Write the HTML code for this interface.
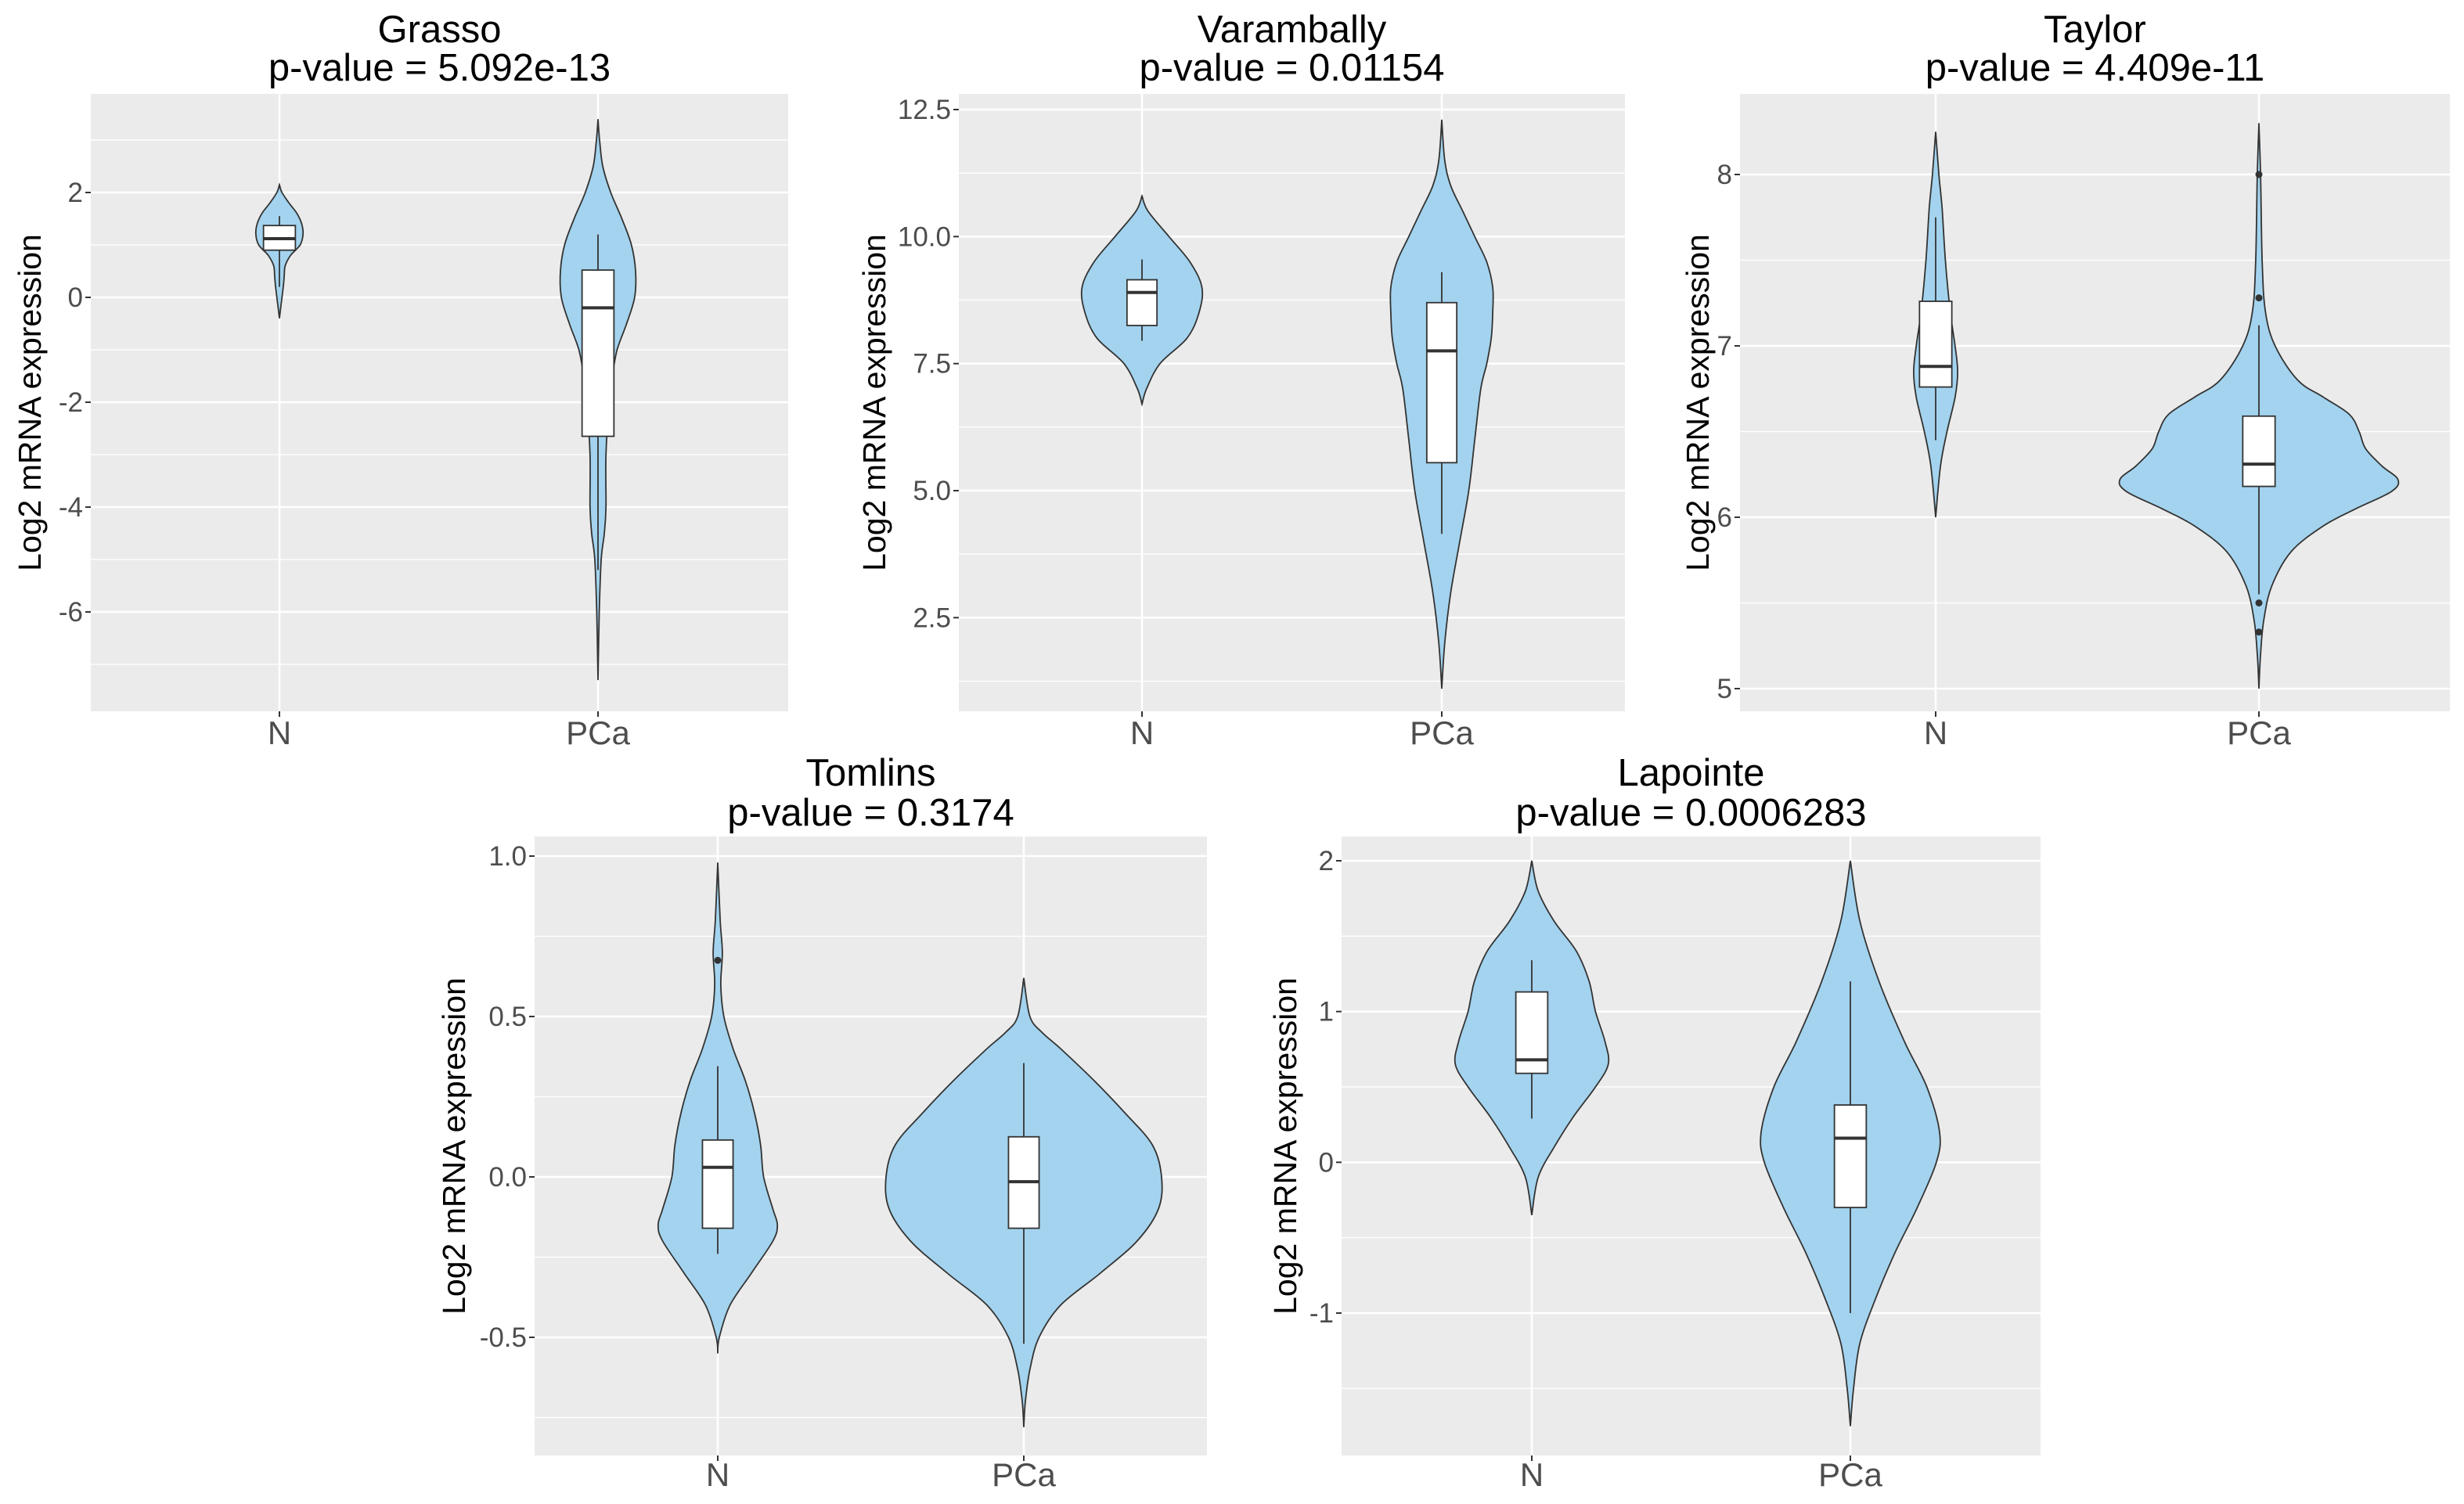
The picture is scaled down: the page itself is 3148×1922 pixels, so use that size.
<!DOCTYPE html>
<html><head><meta charset="utf-8">
<style>
html,body{margin:0;padding:0;background:#fff;}
svg{display:block;font-family:"Liberation Sans",sans-serif;}
</style></head>
<body>
<svg id="fig" width="3148" height="1922" viewBox="0 0 3148 1922" xmlns="http://www.w3.org/2000/svg"></svg>
<script>
// ---- data ----
const categories = ["N","PCa"];
const titles = ["Grasso","Varambally","Taylor","Tomlins","Lapointe"];
const pvalues = ["5.092e-13","0.01154","4.409e-11","0.3174","0.0006283"];
const tickLabelsGrasso = [-6,-4,-2,0,2];
const tickLabelsVarambally = [2.5,5.0,7.5,10.0,12.5];
const tickLabelsTaylor = [5,6,7,8];
const tickLabelsTomlins = [-0.5,0.0,0.5,1.0];
const tickLabelsLapointe = [-1,0,1,2];
// violin density profiles: values and half-widths (fraction of category spacing)
const grassoNVals = [2.15,2.0,1.8,1.6,1.4,1.2,1.0,0.8,0.6,0.4,0.2,0.0,-0.2,-0.4];
const grassoNDens = [0,0.008,0.03,0.055,0.07,0.074,0.065,0.035,0.018,0.015,0.012,0.008,0.004,0];
const grassoPVals = [3.4,3.0,2.5,2.0,1.5,1.0,0.5,0.0,-0.5,-1.0,-1.5,-2.0,-3.0,-4.0,-4.5,-5.0,-6.0,-7.3];
const grassoPDens = [0,0.005,0.015,0.04,0.075,0.105,0.118,0.115,0.09,0.06,0.045,0.035,0.025,0.025,0.02,0.01,0.004,0];
const varNVals = [10.8,10.5,10.0,9.5,9.0,8.5,8.0,7.5,7.0,6.7];
const varNDens = [0,0.02,0.09,0.16,0.2,0.19,0.15,0.06,0.015,0];
const varPVals = [12.3,11.5,11,10.5,10,9.5,9,8.5,8,7.5,7,6,5,4,3,2,1.1];
const varPDens = [0,0.01,0.03,0.07,0.11,0.15,0.17,0.17,0.165,0.15,0.13,0.11,0.09,0.06,0.03,0.01,0];
const taylorNVals = [8.25,8.0,7.8,7.5,7.2,7.0,6.85,6.7,6.5,6.3,6.0];
const taylorNDens = [0,0.01,0.02,0.03,0.045,0.06,0.068,0.06,0.035,0.015,0];
const taylorPVals = [8.3,8.0,7.5,7.2,7.0,6.8,6.7,6.6,6.5,6.4,6.3,6.22,6.15,6.05,5.95,5.8,5.6,5.4,5.2,5.0];
const taylorPDens = [0,0.005,0.01,0.02,0.05,0.12,0.2,0.28,0.31,0.33,0.38,0.43,0.41,0.3,0.2,0.1,0.04,0.015,0.005,0];
const tomNVals = [0.98,0.8,0.7,0.6,0.5,0.4,0.3,0.2,0.1,0.0,-0.1,-0.15,-0.2,-0.3,-0.4,-0.5,-0.55];
const tomNDens = [0,0.008,0.015,0.01,0.02,0.05,0.09,0.12,0.14,0.15,0.18,0.195,0.18,0.11,0.04,0.005,0];
const tomPVals = [0.62,0.5,0.45,0.4,0.3,0.2,0.1,0.0,-0.1,-0.2,-0.3,-0.4,-0.5,-0.6,-0.7,-0.78];
const tomPDens = [0,0.02,0.06,0.12,0.23,0.33,0.42,0.45,0.44,0.37,0.25,0.12,0.05,0.02,0.005,0];
const lapNVals = [2.0,1.8,1.6,1.4,1.2,1.0,0.8,0.65,0.5,0.3,0.1,-0.1,-0.35];
const lapNDens = [0,0.02,0.07,0.14,0.18,0.2,0.23,0.24,0.2,0.13,0.07,0.02,0];
const lapPVals = [2.0,1.6,1.2,0.8,0.5,0.2,0.0,-0.3,-0.6,-0.9,-1.2,-1.5,-1.75];
const lapPDens = [0,0.03,0.09,0.17,0.24,0.28,0.27,0.21,0.14,0.08,0.03,0.01,0];
// boxplots: [lowerWhisker, q1, median, q3, upperWhisker]
const grassoBoxN = [0.2,0.9,1.12,1.37,1.55];
const grassoBoxP = [-5.2,-2.65,-0.2,0.52,1.2];
const varBoxN = [7.95,8.25,8.9,9.15,9.55];
const varBoxP = [4.15,5.55,7.75,8.7,9.3];
const taylorBoxN = [6.45,6.76,6.88,7.26,7.75];
const taylorBoxP = [5.55,6.18,6.31,6.59,7.12];
const tomBoxN = [-0.24,-0.16,0.03,0.115,0.345];
const tomBoxP = [-0.52,-0.16,-0.015,0.125,0.355];
const lapBoxN = [0.29,0.59,0.68,1.13,1.34];
const lapBoxP = [-1.0,-0.3,0.16,0.38,1.2];
// outliers
const taylorOutP = [8.0,7.28,5.5,5.33];
const tomOutN = [0.675];

// ---- layout ----
const panels = [
 {t:0,x0:116,x1:1007,y0:120,y1:909,cx:[357,764],ya:380,yb:246,va:0,vb:2,ticks:tickLabelsGrasso,fmt:v=>String(v),minor:[-7,-5,-3,-1,1,3],
  v:[[grassoNVals,grassoNDens,grassoBoxN,[]],[grassoPVals,grassoPDens,grassoBoxP,[]]],ty:37,ty2:86,xl:936,axo:64},
 {t:1,x0:1225,x1:2076,y0:120,y1:909,cx:[1459,1842],ya:627,yb:140,va:5,vb:12.5,ticks:tickLabelsVarambally,fmt:v=>v.toFixed(1),minor:[1.25,3.75,6.25,8.75,11.25],
  v:[[varNVals,varNDens,varBoxN,[]],[varPVals,varPDens,varBoxP,[]]],ty:37,ty2:86,xl:936,axo:94},
 {t:2,x0:2223,x1:3130,y0:120,y1:909,cx:[2473,2886],ya:880,yb:223,va:5,vb:8,ticks:tickLabelsTaylor,fmt:v=>String(v),minor:[5.5,6.5,7.5],
  v:[[taylorNVals,taylorNDens,taylorBoxN,[]],[taylorPVals,taylorPDens,taylorBoxP,taylorOutP]],ty:37,ty2:86,xl:936,axo:40},
 {t:3,x0:683,x1:1542,y0:1069,y1:1860,cx:[917,1308],ya:1709,yb:1094,va:-0.5,vb:1.0,ticks:tickLabelsTomlins,fmt:v=>v.toFixed(1),minor:[-0.75,-0.25,0.25,0.75],
  v:[[tomNVals,tomNDens,tomBoxN,tomOutN],[tomPVals,tomPDens,tomBoxP,[]]],ty:987,ty2:1038,xl:1884,axo:89},
 {t:4,x0:1714,x1:2607,y0:1069,y1:1860,cx:[1957,2364],ya:1678,yb:1100,va:-1,vb:2,ticks:tickLabelsLapointe,fmt:v=>String(v),minor:[-1.5,-0.5,0.5,1.5],
  v:[[lapNVals,lapNDens,lapBoxN,[]],[lapPVals,lapPDens,lapBoxP,[]]],ty:987,ty2:1038,xl:1884,axo:58}
];
const NS="http://www.w3.org/2000/svg";
const svg=document.getElementById('fig');
function mk(tag,attrs,parent){const e=document.createElementNS(NS,tag);for(const k in attrs)e.setAttribute(k,attrs[k]);(parent||svg).appendChild(e);return e;}
function smooth(pts){
  let d="M"+pts[0][0].toFixed(1)+","+pts[0][1].toFixed(1);
  for(let i=0;i<pts.length-1;i++){
    const p0=pts[Math.max(0,i-1)],p1=pts[i],p2=pts[i+1],p3=pts[Math.min(pts.length-1,i+2)];
    const c1=[p1[0]+(p2[0]-p0[0])/6,p1[1]+(p2[1]-p0[1])/6];
    const c2=[p2[0]-(p3[0]-p1[0])/6,p2[1]-(p3[1]-p1[1])/6];
    d+=" C"+c1[0].toFixed(1)+","+c1[1].toFixed(1)+" "+c2[0].toFixed(1)+","+c2[1].toFixed(1)+" "+p2[0].toFixed(1)+","+p2[1].toFixed(1);
  }
  return d;
}
panels.forEach(p=>{
  const g=mk('g',{});
  
  
  const sy=v=>p.ya+(v-p.va)*(p.yb-p.ya)/(p.vb-p.va);
  const spacing=p.cx[1]-p.cx[0];
  const bg=mk('rect',{x:p.x0,y:p.y0,width:p.x1-p.x0,height:p.y1-p.y0,fill:'#ebebeb'},g);
  
  
  p.minor.forEach(v=>{const y=sy(v);if(y>p.y0&&y<p.y1){const l=mk('line',{x1:p.x0,x2:p.x1,y1:y,y2:y,stroke:'#fff','stroke-width':1.3},g);
    
    }});
  p.ticks.forEach(v=>{const y=sy(v);
    const l=mk('line',{x1:p.x0,x2:p.x1,y1:y,y2:y,stroke:'#fff','stroke-width':2.6},g);
    
    
    mk('line',{x1:p.x0-7,x2:p.x0,y1:y,y2:y,stroke:'#333','stroke-width':2},g);
    const t=mk('text',{x:p.x0-10,y:y+12,'text-anchor':'end','font-size':35,fill:'#4d4d4d'},g);
    t.textContent=p.fmt(v);
    
    
  });
  p.cx.forEach((cx,i)=>{
    const l=mk('line',{x1:cx,x2:cx,y1:p.y0,y2:p.y1,stroke:'#fff','stroke-width':2.6},g);
    
    
    mk('line',{x1:cx,x2:cx,y1:p.y1,y2:p.y1+7,stroke:'#333','stroke-width':2},g);
    const t=mk('text',{x:cx,y:p.xl+15,'text-anchor':'middle','font-size':42,fill:'#4d4d4d'},g);
    t.textContent=categories[i];
    
    
  });
  p.v.forEach((vd,i)=>{
    const cx=p.cx[i],vals=vd[0],dens=vd[1],box=vd[2],outs=vd[3];
    const right=vals.map((v,k)=>[cx+dens[k]*spacing,sy(v)]);
    const left=vals.map((v,k)=>[cx-dens[k]*spacing,sy(v)]).reverse();
    const d=smooth(right)+" L"+smooth(left).slice(1)+" Z";
    const vp=mk('path',{d:d,fill:'#a3d3ee',stroke:'#333','stroke-width':1.8},g);
    
    
    const bw=0.05*spacing;
    const wl=mk('line',{x1:cx,x2:cx,y1:sy(box[0]),y2:sy(box[4]),stroke:'#333','stroke-width':1.8},g);
    
    
    const br=mk('rect',{x:cx-bw,y:sy(box[3]),width:2*bw,height:sy(box[1])-sy(box[3]),fill:'#fff',stroke:'#333','stroke-width':1.8},g);
    
    
    const md=mk('line',{x1:cx-bw,x2:cx+bw,y1:sy(box[2]),y2:sy(box[2]),stroke:'#333','stroke-width':4},g);
    
    
    outs.forEach(o=>{const c=mk('circle',{cx:cx,cy:sy(o),r:4.5,fill:'#333'},g);
      
      });
  });
  const cxm=(p.x0+p.x1)/2;
  const t1=mk('text',{x:cxm,y:p.ty+17,'text-anchor':'middle','font-size':49,fill:'#000'},g);
  t1.textContent=titles[p.t];
  
  
  const t2=mk('text',{x:cxm,y:p.ty2+17,'text-anchor':'middle','font-size':49,fill:'#000'},g);
  t2.textContent="p-value = "+pvalues[p.t];
  
  
  const ym=(p.y0+p.y1)/2, ax=p.x0-p.axo;
  const yt=mk('text',{x:ax,y:ym,'text-anchor':'middle','font-size':41,fill:'#000',transform:'rotate(-90 '+ax+' '+ym+')'},g);
  yt.textContent="Log2 mRNA expression";
  
  
});
</script>
</body></html>
